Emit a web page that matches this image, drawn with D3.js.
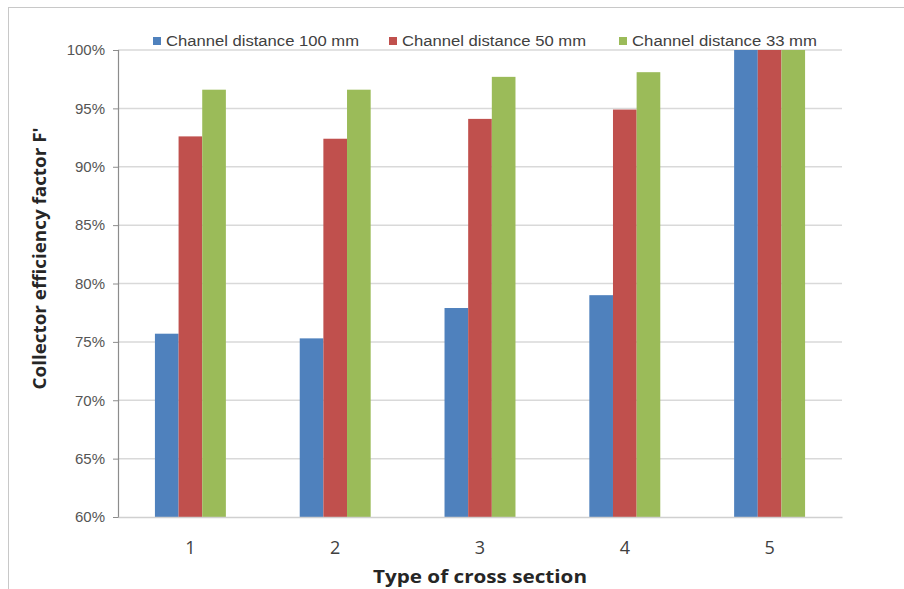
<!DOCTYPE html>
<html>
<head>
<meta charset="utf-8">
<script src="https://cdn.jsdelivr.net/npm/d3@7"></script>
<style>
  html, body { margin: 0; padding: 0; background: #ffffff; }
  svg { display: block; }
</style>
</head>
<body>
<script>
// ---- data ----
const categories = ["1", "2", "3", "4", "5"];
const seriesNames = ["Channel distance 100 mm", "Channel distance 50 mm", "Channel distance 33 mm"];
const values100 = [0.757, 0.753, 0.779, 0.790, 1.000];
const values50  = [0.926, 0.924, 0.941, 0.949, 1.000];
const values33  = [0.966, 0.966, 0.977, 0.981, 1.000];
const yTicks = [0.60, 0.65, 0.70, 0.75, 0.80, 0.85, 0.90, 0.95, 1.00];
const colors = ["#4F81BD", "#C0504D", "#9BBB59"];

const seriesValues = [values100, values50, values33];

const W = 904, H = 589;
const margin = { left: 118, right: 62, top: 50, bottom: 72 };
const plotL = margin.left, plotR = W - margin.right, plotT = margin.top, plotB = H - margin.bottom;

const svg = d3.select("body").append("svg").attr("width", W).attr("height", H);

// frame
svg.append("rect").attr("x", 0).attr("y", 0).attr("width", W).attr("height", H).attr("fill", "#ffffff");
svg.append("line").attr("x1", 8).attr("x2", W).attr("y1", 7.5).attr("y2", 7.5).attr("stroke", "#c8c8c8").attr("stroke-width", 1);
svg.append("line").attr("x1", 8.5).attr("x2", 8.5).attr("y1", 7).attr("y2", H).attr("stroke", "#c8c8c8").attr("stroke-width", 1);

const y = d3.scaleLinear().domain([0.6, 1.0]).range([plotB, plotT]);
const x = d3.scaleBand().domain(categories).range([plotL, plotR]).paddingInner(0.51).paddingOuter(0.255);
const xs = d3.scaleBand().domain(d3.range(seriesNames.length)).range([0, x.bandwidth()]);

// gridlines
svg.append("g").selectAll("line").data(yTicks.filter(t => t > 0.6)).join("line")
  .attr("x1", plotL).attr("x2", plotR)
  .attr("y1", d => y(d)).attr("y2", d => y(d))
  .attr("stroke", "#d9d9d9").attr("stroke-width", 1.5);

// bars
const rows = [];
categories.forEach((c, i) => {
  seriesValues.forEach((vals, s) => rows.push({ c, s, v: vals[i] }));
});
svg.append("g").selectAll("rect").data(rows).join("rect")
  .attr("x", d => x(d.c) + xs(d.s))
  .attr("width", xs.bandwidth())
  .attr("y", d => y(d.v))
  .attr("height", d => y(0.6) - y(d.v))
  .attr("fill", d => colors[d.s]);

// y axis
const yAxis = d3.axisLeft(y).tickValues(yTicks).tickFormat(d3.format(".0%")).tickSize(5).tickPadding(8);
const gy = svg.append("g").attr("transform", `translate(${plotL},0)`).call(yAxis);
gy.select(".domain").attr("stroke", "#8c8c8c").attr("stroke-width", 1.2);
gy.selectAll(".tick line").attr("stroke", "#8c8c8c");
gy.selectAll(".tick text").attr("fill", "#555555").style("font-family", "'Liberation Sans', Arial, sans-serif").style("font-size", "15px");

// x axis
const xAxis = d3.axisBottom(x).tickSize(0).tickPadding(24);
const gx = svg.append("g").attr("transform", `translate(0,${plotB})`).call(xAxis);
gx.select(".domain").attr("stroke", "#d0d0d0").attr("stroke-width", 1.5);
gx.selectAll(".tick text").attr("fill", "#404040").style("font-family", "'Open Sans', 'Liberation Sans', sans-serif").style("font-size", "18px");

// axis titles
svg.append("text")
  .attr("transform", `translate(46,${(plotT + plotB) / 2 - 25}) rotate(-90)`)
  .attr("text-anchor", "middle")
  .attr("fill", "#262626")
  .style("font-family", "'Open Sans', 'Liberation Sans', sans-serif")
  .style("font-weight", "bold").style("font-size", "18px")
  .attr("textLength", 262).attr("lengthAdjust", "spacingAndGlyphs")
  .text("Collector efficiency factor F'");

svg.append("text")
  .attr("x", 480).attr("y", 583)
  .attr("text-anchor", "middle")
  .attr("fill", "#262626")
  .style("font-family", "'Open Sans', 'Liberation Sans', sans-serif")
  .style("font-weight", "bold").style("font-size", "18px")
  .attr("textLength", 214).attr("lengthAdjust", "spacingAndGlyphs")
  .text("Type of cross section");

// legend
const legendX = [153, 389, 619];
const legendW = [193, 184, 185];
const lg = svg.append("g").selectAll("g").data(seriesNames).join("g")
  .attr("transform", (d, i) => `translate(${legendX[i]},41)`);
lg.append("rect").attr("x", 0).attr("y", -4).attr("width", 8).attr("height", 8).attr("fill", (d, i) => colors[i]);
lg.append("text").attr("x", 13).attr("y", 5)
  .attr("fill", "#404040")
  .style("font-family", "'Liberation Sans', Arial, sans-serif").style("font-size", "14px")
  .attr("textLength", (d, i) => legendW[i]).attr("lengthAdjust", "spacingAndGlyphs")
  .text(d => d);
</script>
</body>
</html>
